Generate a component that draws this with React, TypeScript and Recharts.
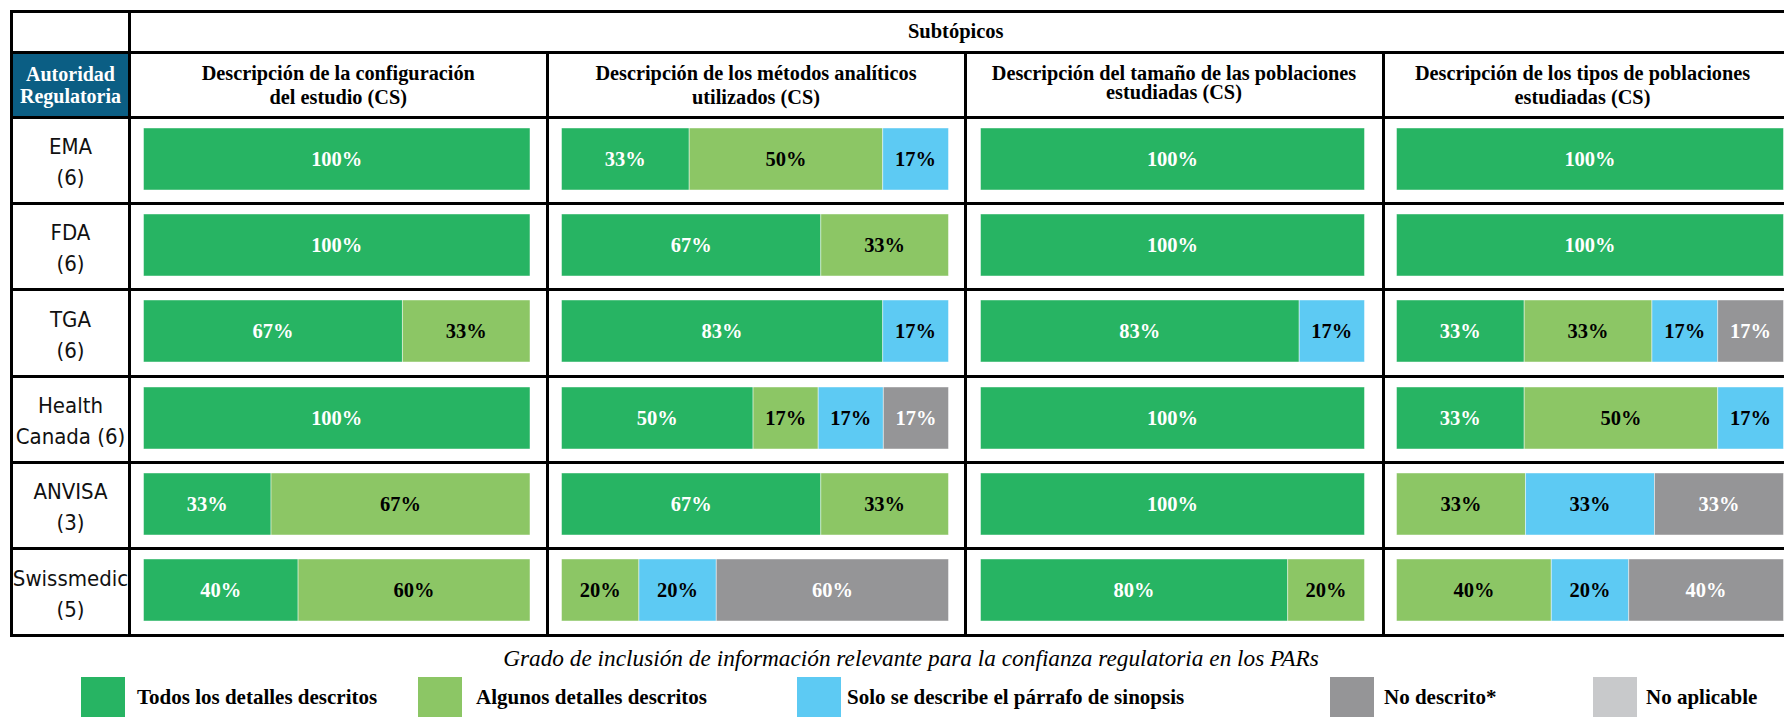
import React from 'react';
import { BarChart, Bar, XAxis, YAxis, LabelList } from 'recharts';

// row labels (authority + n)
const authorities = [
  ['EMA', '(6)'],
  ['FDA', '(6)'],
  ['TGA', '(6)'],
  ['Health', 'Canada (6)'],
  ['ANVISA', '(3)'],
  ['Swissmedic', '(5)'],
];

const subtopics = [
  ['Descripción de la configuración', 'del estudio (CS)'],
  ['Descripción de los métodos analíticos', 'utilizados (CS)'],
  ['Descripción del tamaño de las poblaciones', 'estudiadas (CS)'],
  ['Descripción de los tipos de poblaciones', 'estudiadas (CS)'],
];

const seriesNames = [
  'Todos los detalles descritos',
  'Algunos detalles descritos',
  'Solo se describe el párrafo de sinopsis',
  'No descrito*',
  'No aplicable',
];

// values in %, [authority][subtopic]
const todos = [
  [100, 33, 100, 100],
  [100, 67, 100, 100],
  [67, 83, 83, 33],
  [100, 50, 100, 33],
  [33, 67, 100, 0],
  [40, 0, 80, 0],
];
const algunos = [
  [0, 50, 0, 0],
  [0, 33, 0, 0],
  [33, 0, 0, 33],
  [0, 17, 0, 50],
  [67, 33, 0, 33],
  [60, 20, 20, 40],
];
const sinopsis = [
  [0, 17, 0, 0],
  [0, 0, 0, 0],
  [0, 17, 17, 17],
  [0, 17, 0, 17],
  [0, 0, 0, 33],
  [0, 20, 0, 20],
];
const noDescrito = [
  [0, 0, 0, 0],
  [0, 0, 0, 0],
  [0, 0, 0, 17],
  [0, 17, 0, 0],
  [0, 0, 0, 33],
  [0, 60, 0, 40],
];
const noAplicable = [
  [0, 0, 0, 0],
  [0, 0, 0, 0],
  [0, 0, 0, 0],
  [0, 0, 0, 0],
  [0, 0, 0, 0],
  [0, 0, 0, 0],
];

const SERIES = [
  { key: 'todos', values: todos, color: '#27B463', text: '#ffffff' },
  { key: 'algunos', values: algunos, color: '#8CC665', text: '#000000' },
  { key: 'sinopsis', values: sinopsis, color: '#5DCAF3', text: '#000000' },
  { key: 'noDescrito', values: noDescrito, color: '#959597', text: '#ffffff' },
  { key: 'noAplicable', values: noAplicable, color: '#C8C9CB', text: '#000000' },
];

const SERIF = "'Liberation Serif', 'Times New Roman', serif";
const SANS = "'DejaVu Sans Condensed', 'DejaVu Sans', sans-serif";

// grid line centres, page coords
const X = [11.5, 129.5, 547, 965, 1383, 1800];
const Y = [11, 52, 117, 203.3, 289.7, 376, 462.3, 548.7, 635];
const LINE = 3;
const INSET = [
  [12.5, 15.5],
  [12.5, 15.5],
  [13.5, 17.5],
  [11.5, 15.5],
];

const legendX = [81, 418, 797, 1330, 1593];
const legendTextX = [137, 476, 847, 1384, 1646];

const makeLabel = (fill: string) => (props: any) => {
  const { x, y, width, height, value } = props;
  if (!value) return null;
  return (
    <text
      x={Number(x) + Number(width) / 2}
      y={Number(y) + Number(height) / 2}
      fill={fill}
      textAnchor="middle"
      dominantBaseline="central"
      fontFamily={SERIF}
      fontWeight="bold"
      fontSize={20.5}
    >
      {value}%
    </text>
  );
};

function CellChart({ r, c }: { r: number; c: number }) {
  const row: any = { name: authorities[r].join(' ') };
  SERIES.forEach((s) => {
    row[s.key] = s.values[r][c];
  });
  const left = X[c + 1] + LINE / 2;
  const width = X[c + 2] - X[c + 1] - LINE;
  const top = Y[r + 2] + LINE / 2;
  const height = Y[r + 3] - Y[r + 2] - LINE;
  return (
    <div style={{ position: 'absolute', left, top, width, height }}>
      <BarChart
        width={width}
        height={height}
        layout="vertical"
        data={[row]}
        barSize={62}
        margin={{ top: 0, bottom: 2.7, left: INSET[c][0], right: INSET[c][1] }}
      >
        <XAxis type="number" hide domain={[0, 'dataMax']} />
        <YAxis type="category" dataKey="name" hide />
        {SERIES.map((s) => (
          <Bar
            key={s.key}
            dataKey={s.key}
            stackId="a"
            fill={s.color}
            stroke="#ffffff"
            strokeOpacity={0.45}
            strokeWidth={1}
            isAnimationActive={false}
          >
            <LabelList dataKey={s.key} content={makeLabel(s.text)} />
          </Bar>
        ))}
      </BarChart>
    </div>
  );
}

export default function App() {
  const lines: React.ReactNode[] = [];
  // horizontal lines
  Y.forEach((y, i) => {
    lines.push(
      <div
        key={`h-${i}`}
        style={{
          position: 'absolute',
          left: X[0] - LINE / 2,
          top: y - LINE / 2,
          width: X[5] - X[0] + LINE,
          height: LINE,
          background: '#000',
        }}
      />
    );
  });
  // vertical lines
  X.forEach((x, i) => {
    const y0 = i >= 2 && i <= 4 ? Y[1] : Y[0];
    lines.push(
      <div
        key={`v-${i}`}
        style={{
          position: 'absolute',
          left: x - LINE / 2,
          top: y0 - LINE / 2,
          width: LINE,
          height: Y[8] - y0 + LINE,
          background: '#000',
        }}
      />
    );
  });

  return (
    <div style={{ position: 'relative', width: 1784, height: 717, overflow: 'hidden', background: '#fff' }}>
      <style>{'html,body{margin:0;padding:0;overflow:hidden;}'}</style>
      {/* Autoridad Regulatoria header */}
      <div
        style={{
          position: 'absolute',
          left: X[0] + LINE / 2,
          top: Y[1] + LINE / 2,
          width: X[1] - X[0] - LINE,
          height: Y[2] - Y[1] - LINE,
          background: '#0B5E84',
          color: '#fff',
          fontFamily: SERIF,
          fontWeight: 'bold',
          fontSize: 20,
          lineHeight: '22px',
          display: 'flex',
          flexDirection: 'column',
          alignItems: 'center',
          justifyContent: 'center',
          textAlign: 'center',
        }}
      >
        <div>Autoridad</div>
        <div>Regulatoria</div>
      </div>

      {/* Subtópicos */}
      <div
        style={{
          position: 'absolute',
          left: X[1],
          top: Y[0],
          width: 1784 - X[1] - 2,
          height: Y[1] - Y[0],
          display: 'flex',
          alignItems: 'center',
          justifyContent: 'center',
          fontFamily: SERIF,
          fontWeight: 'bold',
          fontSize: 20.5,
        }}
      >
        Subtópicos
      </div>

      {/* subtopic headers */}
      {subtopics.map((t, c) => (
        <div
          key={`st-${c}`}
          style={{
            position: 'absolute',
            left: X[c + 1],
            top: Y[1] - (c === 2 ? 2 : 0),
            width: c === 3 ? 1784 - X[4] - 2 : X[c + 2] - X[c + 1],
            height: Y[2] - Y[1],
            display: 'flex',
            flexDirection: 'column',
            alignItems: 'center',
            justifyContent: 'center',
            textAlign: 'center',
            fontFamily: SERIF,
            fontWeight: 'bold',
            fontSize: 20.3,
            lineHeight: c === 2 ? '19px' : '24px',
          }}
        >
          {t.map((l, i) => (
            <div key={i}>{l}</div>
          ))}
        </div>
      ))}

      {/* row labels */}
      {authorities.map((a, r) => (
        <div
          key={`a-${r}`}
          style={{
            position: 'absolute',
            left: X[0],
            top: Y[r + 2] + 2,
            width: X[1] - X[0],
            height: Y[r + 3] - Y[r + 2],
            display: 'flex',
            flexDirection: 'column',
            alignItems: 'center',
            justifyContent: 'center',
            textAlign: 'center',
            fontFamily: SANS,
            fontSize: 22,
            lineHeight: '31px',
            color: '#111',
            whiteSpace: 'nowrap',
          }}
        >
          {a.map((l, i) => (
            <div key={i}>{l}</div>
          ))}
        </div>
      ))}

      {authorities.map((_, r) => subtopics.map((__, c) => <CellChart key={`${r}-${c}`} r={r} c={c} />))}

      {lines}

      {/* axis title */}
      <div
        style={{
          position: 'absolute',
          left: 500,
          top: 658 - 14,
          width: 822,
          height: 28,
          textAlign: 'center',
          fontFamily: SERIF,
          fontStyle: 'italic',
          fontSize: 23.3,
          lineHeight: '28px',
          whiteSpace: 'nowrap',
        }}
      >
        Grado de inclusión de información relevante para la confianza regulatoria en los PARs
      </div>

      {/* legend */}
      {SERIES.map((s, i) => (
        <React.Fragment key={`lg-${s.key}`}>
          <div
            style={{
              position: 'absolute',
              left: legendX[i],
              top: 677,
              width: 44,
              height: 44,
              background: s.color,
            }}
          />
          <div
            style={{
              position: 'absolute',
              left: legendTextX[i],
              top: 697 - 13,
              height: 26,
              lineHeight: '26px',
              fontFamily: SERIF,
              fontWeight: 'bold',
              fontSize: 21,
              whiteSpace: 'nowrap',
            }}
          >
            {seriesNames[i]}
          </div>
        </React.Fragment>
      ))}
    </div>
  );
}
